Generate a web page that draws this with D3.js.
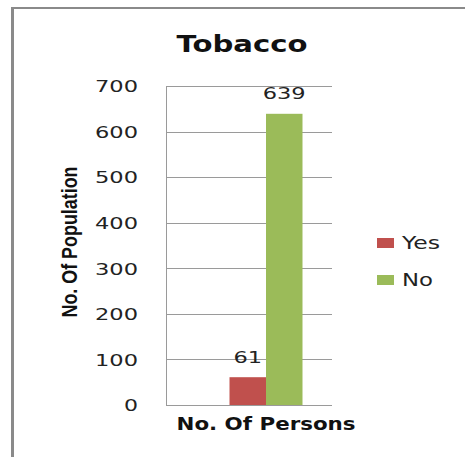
<!DOCTYPE html>
<html>
<head>
<meta charset="utf-8">
<script src="https://cdn.jsdelivr.net/npm/d3@7"></script>
<style>
  html, body { margin: 0; padding: 0; background: #fff; }
  svg { display: block; }
</style>
</head>
<body>
<svg id="chart" width="465" height="457"></svg>
<script>
const title = "Tobacco";
const categories = ["No. Of Persons"];
const seriesNames = ["Yes", "No"];
const yesValues = [61];
const noValues = [639];
const yTicks = [0, 100, 200, 300, 400, 500, 600, 700];
const yTitle = "No. Of Population";
const colors = ["#C0504D", "#9BBB59"];

const svg = d3.select("#chart");

// outer frame (top and left edges visible)
svg.append("line").attr("x1", 11).attr("x2", 465).attr("y1", 8).attr("y2", 8)
  .attr("stroke", "#8a8a8a").attr("stroke-width", 2);
svg.append("line").attr("x1", 12.5).attr("x2", 12.5).attr("y1", 7).attr("y2", 457)
  .attr("stroke", "#8a8a8a").attr("stroke-width", 3);

const plotLeft = 166, plotRight = 332, plotTop = 86, plotBottom = 405;

const y = d3.scaleLinear().domain([0, 700]).range([plotBottom, plotTop]);
const x0 = d3.scaleBand().domain(categories).range([166, 366]).paddingInner(0).paddingOuter(0.87);
const x1 = d3.scaleBand().domain(seriesNames).range([0, x0.bandwidth()]);

// gridlines
svg.append("g").selectAll("line").data(yTicks).join("line")
  .attr("x1", plotLeft).attr("x2", plotRight)
  .attr("y1", d => Math.round(y(d)) + 0.5).attr("y2", d => Math.round(y(d)) + 0.5)
  .attr("stroke", "#9a9a9a").attr("stroke-width", 1);

// y axis line
svg.append("line").attr("x1", plotLeft + 0.5).attr("x2", plotLeft + 0.5)
  .attr("y1", plotTop).attr("y2", plotBottom + 0.5)
  .attr("stroke", "#9a9a9a").attr("stroke-width", 1);

// y axis labels
const yAxis = d3.axisLeft(y).tickValues(yTicks).tickSize(0).tickPadding(0);
const gy = svg.append("g").attr("transform", `translate(138,0)`).call(yAxis);
gy.select(".domain").remove();
gy.selectAll("text")
  .attr("font-family", "DejaVu Sans, Verdana, sans-serif")
  .attr("font-size", 16)
  .attr("fill", "#222")
  .attr("dy", "0.36em")
  .attr("lengthAdjust", "spacingAndGlyphs")
  .each(function(d){
    const n = String(d).length;
    d3.select(this).attr("textLength", n === 1 ? 14 : 43);
  });

// bars
const series = [yesValues, noValues];
const groups = svg.append("g").selectAll("g").data(categories).join("g")
  .attr("transform", d => `translate(${x0(d)},0)`);
seriesNames.forEach((s, si) => {
  groups.append("rect")
    .attr("x", x1(s))
    .attr("width", x1.bandwidth())
    .attr("y", (d, i) => y(series[si][i]))
    .attr("height", (d, i) => plotBottom - y(series[si][i]))
    .attr("fill", colors[si]);
  groups.append("text")
    .attr("x", x1(s) + x1.bandwidth() / 2)
    .attr("y", (d, i) => y(series[si][i]) - 14.5)
    .attr("text-anchor", "middle")
    .attr("font-family", "DejaVu Sans, Verdana, sans-serif")
    .attr("font-size", 16)
    .attr("fill", "#222")
    .attr("textLength", (d, i) => String(series[si][i]).length * 14.3)
    .attr("lengthAdjust", "spacingAndGlyphs")
    .text((d, i) => series[si][i]);
});

// x axis category label
svg.append("g").selectAll("text").data(categories).join("text")
  .attr("x", d => x0(d) + x0.bandwidth() / 2)
  .attr("y", 430)
  .attr("text-anchor", "middle")
  .attr("font-family", "DejaVu Sans, Verdana, sans-serif")
  .attr("font-weight", "bold")
  .attr("font-size", 17)
  .attr("fill", "#111")
  .attr("textLength", 179)
  .attr("lengthAdjust", "spacingAndGlyphs")
  .text(d => d);

// title
svg.append("text")
  .attr("x", 242).attr("y", 52)
  .attr("text-anchor", "middle")
  .attr("font-family", "DejaVu Sans, Verdana, sans-serif")
  .attr("font-weight", "bold")
  .attr("font-size", 23)
  .attr("fill", "#111")
  .attr("textLength", 131)
  .attr("lengthAdjust", "spacingAndGlyphs")
  .text(title);

// y title
svg.append("text")
  .attr("transform", `translate(77,242) rotate(-90)`)
  .attr("text-anchor", "middle")
  .attr("font-family", "Liberation Sans, Arial, sans-serif")
  .attr("font-weight", "bold")
  .attr("font-size", 22)
  .attr("fill", "#111")
  .attr("textLength", 151)
  .attr("lengthAdjust", "spacingAndGlyphs")
  .text(yTitle);

// legend
const legend = svg.append("g").selectAll("g").data(seriesNames).join("g")
  .attr("transform", (d, i) => `translate(377,${238 + i * 37})`);
legend.append("rect").attr("width", 17).attr("height", 10)
  .attr("fill", (d, i) => colors[i]);
legend.append("text")
  .attr("x", 25).attr("y", 11)
  .attr("font-family", "DejaVu Sans, Verdana, sans-serif")
  .attr("font-size", 17)
  .attr("fill", "#222")
  .attr("textLength", d => d === "Yes" ? 38 : 31)
  .attr("lengthAdjust", "spacingAndGlyphs")
  .text(d => d);
</script>
</body>
</html>
